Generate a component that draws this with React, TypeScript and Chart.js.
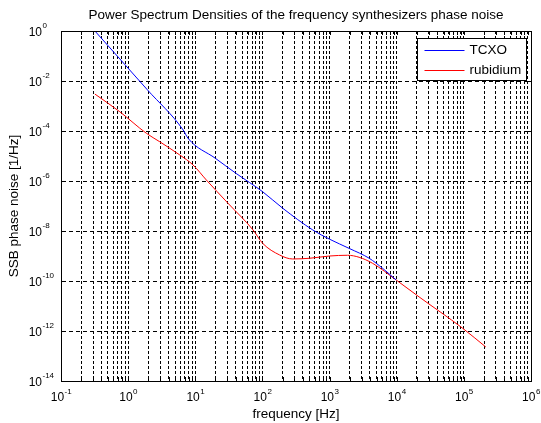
import React, { useEffect, useRef } from "react";
import { Chart, registerables } from "chart.js";

Chart.register(...registerables);

const titleText = "Power Spectrum Densities of the frequency synthesizers phase noise";
const xTitle = "frequency [Hz]";
const yTitle = "SSB phase noise [1/Hz]";
const seriesLabels = ["TCXO", "rubidium"];
const seriesColors = ["#0000ff", "#ff0000"];

const tcxoFreq = [0.32, 0.89, 1.94, 6.6, 7.8, 19.9, 40.7, 101, 201, 562, 1000, 1970, 3900, 6170, 9800];
const tcxoPsd = [1, 4.6e-2, 4.4e-3, 1.1e-4, 5.1e-5, 8.1e-6, 2.0e-6, 3.7e-7, 8.1e-8, 1.1e-8, 4.7e-9, 2.0e-9, 8.1e-10, 3.2e-10, 1.1e-10];

const rubFreq = [0.32, 0.75, 1.87, 2.96, 5.87, 9.25, 14.6, 30.6, 72.5, 101, 180, 282, 500, 1000, 1860, 2750, 4370, 9800, 21600, 95500, 212000];
const rubPsd = [3.0e-3, 5.9e-4, 8.1e-5, 3.7e-5, 1.1e-5, 4.4e-6, 1.1e-6, 1.3e-7, 1.1e-8, 3.2e-9, 1.1e-9, 7.6e-10, 8.1e-10, 1.0e-9, 1.07e-9, 8.9e-10, 5.1e-10, 1.1e-10, 2.3e-11, 1.3e-12, 2.3e-13];

const xTickExponents = [-1, 0, 1, 2, 3, 4, 5, 6];
const xMinorMultipliers = [2, 3, 4, 5, 6, 7, 8, 9];
const yTickExponents = [0, -2, -4, -6, -8, -10, -12, -14];

const FONT = '"Liberation Sans", Arial, sans-serif';

const decoPlugin = {
  id: "deco",
  afterDraw(chart: any) {
    const ctx = chart.ctx;
    const { left, right, top, bottom } = chart.chartArea;
    const xs = chart.scales.x;
    const ys = chart.scales.y;
    ctx.save();
    // box
    ctx.strokeStyle = "#000";
    ctx.lineWidth = 1;
    ctx.setLineDash([]);
    ctx.strokeRect(Math.round(left) + 0.5, Math.round(top) + 0.5, Math.round(right - left), Math.round(bottom - top));
    // inner tick marks
    ctx.beginPath();
    for (const t of xs.ticks) {
      const px = Math.round(xs.getPixelForValue(t.value)) + 0.5;
      ctx.moveTo(px, bottom);
      ctx.lineTo(px, bottom - 4);
      ctx.moveTo(px, top);
      ctx.lineTo(px, top + 4);
    }
    for (const t of ys.ticks) {
      const py = Math.round(ys.getPixelForValue(t.value)) + 0.5;
      ctx.moveTo(left, py);
      ctx.lineTo(left + 5, py);
      ctx.moveTo(right, py);
      ctx.lineTo(right - 5, py);
    }
    ctx.stroke();

    // tick labels with superscript exponents
    ctx.fillStyle = "#000";
    ctx.textBaseline = "alphabetic";
    for (const t of xs.ticks) {
      if (!t.major) continue;
      const e = String(Math.round(Math.log10(t.value)));
      const px = xs.getPixelForValue(t.value);
      ctx.font = "12px " + FONT;
      const w1 = ctx.measureText("10").width;
      ctx.font = "8px " + FONT;
      const w2 = ctx.measureText(e).width;
      const start = px - (w1 + w2) / 2;
      ctx.textAlign = "left";
      ctx.font = "12px " + FONT;
      ctx.fillText("10", start, bottom + 20);
      ctx.font = "8px " + FONT;
      ctx.fillText(e, start + w1 + 0.5, bottom + 13);
    }
    for (const t of ys.ticks) {
      const e = String(Math.round(Math.log10(t.value)));
      const py = ys.getPixelForValue(t.value);
      ctx.font = "12px " + FONT;
      ctx.textAlign = "right";
      ctx.fillText("10", left - 19, py + 5);
      ctx.font = "8px " + FONT;
      ctx.textAlign = "left";
      ctx.fillText(e, left - 18.5, py - 3.5);
    }

    // legend
    ctx.font = "13.5px " + FONT;
    const ds = chart.data.datasets;
    let maxW = 0;
    for (const d of ds) maxW = Math.max(maxW, ctx.measureText(d.label).width);
    const bw = Math.round(53 + maxW + 4);
    const bh = 42;
    const bx = Math.round(right - 5 - bw) + 0.5;
    const by = Math.round(top + 7) + 0.5;
    ctx.fillStyle = "#fff";
    ctx.fillRect(bx, by, bw, bh);
    ctx.strokeStyle = "#000";
    ctx.strokeRect(bx, by, bw, bh);
    ds.forEach((d: any, i: number) => {
      const ry = by + 11 + i * 20;
      ctx.strokeStyle = d.borderColor;
      ctx.beginPath();
      ctx.moveTo(bx + 7, Math.round(ry) + 0.5);
      ctx.lineTo(bx + 47, Math.round(ry) + 0.5);
      ctx.stroke();
      ctx.fillStyle = "#000";
      ctx.textAlign = "left";
      ctx.textBaseline = "middle";
      ctx.fillText(d.label, bx + 52, ry + 1);
    });
    ctx.restore();
  },
};

export default function App() {
  const ref = useRef<HTMLCanvasElement | null>(null);
  useEffect(() => {
    if (!ref.current) return;
    const chart = new Chart(ref.current, {
      type: "line",
      data: {
        datasets: [
          {
            label: seriesLabels[0],
            data: tcxoFreq.map((f, i) => ({ x: f, y: tcxoPsd[i] })),
            borderColor: seriesColors[0],
            borderWidth: 1,
            pointRadius: 0,
            cubicInterpolationMode: "monotone",
            fill: false,
          },
          {
            label: seriesLabels[1],
            data: rubFreq.map((f, i) => ({ x: f, y: rubPsd[i] })),
            borderColor: seriesColors[1],
            borderWidth: 1,
            pointRadius: 0,
            cubicInterpolationMode: "monotone",
            fill: false,
          },
        ],
      },
      options: {
        responsive: false,
        animation: false,
        events: [],
        layout: { padding: { left: 0, right: 10, top: 0, bottom: 0 } },
        plugins: {
          legend: { display: false },
          tooltip: { enabled: false },
          title: {
            display: true,
            text: titleText,
            fullSize: false,
            color: "#000",
            font: { family: FONT, size: 13.5, weight: "normal" },
            padding: { top: 7.5, bottom: 7.3 },
          },
        },
        scales: {
          x: {
            type: "logarithmic",
            min: Math.pow(10, xTickExponents[0]),
            max: Math.pow(10, xTickExponents[xTickExponents.length - 1]),
            afterBuildTicks(scale: any) {
              const ticks: any[] = [];
              for (let k = 0; k < xTickExponents.length; k++) {
                const e = xTickExponents[k];
                ticks.push({ value: Math.pow(10, e), major: true });
                if (k < xTickExponents.length - 1) {
                  for (const m of xMinorMultipliers) ticks.push({ value: m * Math.pow(10, e), major: false });
                }
              }
              scale.ticks = ticks;
            },
            afterFit(scale: any) {
              scale.height = 42;
            },
            ticks: { display: false },
            grid: { color: "#000", lineWidth: 1, drawTicks: false },
            border: { display: true, color: "#000", width: 1, dash: [3, 2] },
            title: {
              display: true,
              text: xTitle,
              color: "#000",
              font: { family: FONT, size: 13.5 },
              padding: { top: 0, bottom: 1 },
            },
          },
          y: {
            type: "logarithmic",
            min: Math.pow(10, yTickExponents[yTickExponents.length - 1]),
            max: Math.pow(10, yTickExponents[0]),
            afterBuildTicks(scale: any) {
              scale.ticks = yTickExponents.map((e) => ({ value: Math.pow(10, e), major: true }));
            },
            afterFit(scale: any) {
              scale.width = 61;
            },
            ticks: { display: false },
            grid: { color: "#000", lineWidth: 1, drawTicks: false },
            border: { display: true, color: "#000", width: 1, dash: [4, 3] },
            title: {
              display: true,
              text: yTitle,
              color: "#000",
              font: { family: FONT, size: 13.5 },
              padding: { top: 6, bottom: 0 },
            },
          },
        },
      },
      plugins: [decoPlugin],
    } as any);
    return () => chart.destroy();
  }, []);
  return (
    <div style={{ position: "absolute", left: 0, top: 0, width: 541, height: 423, background: "#fff" }}>
      <canvas ref={ref} width={541} height={423} style={{ width: 541, height: 423, display: "block" }} />
    </div>
  );
}
